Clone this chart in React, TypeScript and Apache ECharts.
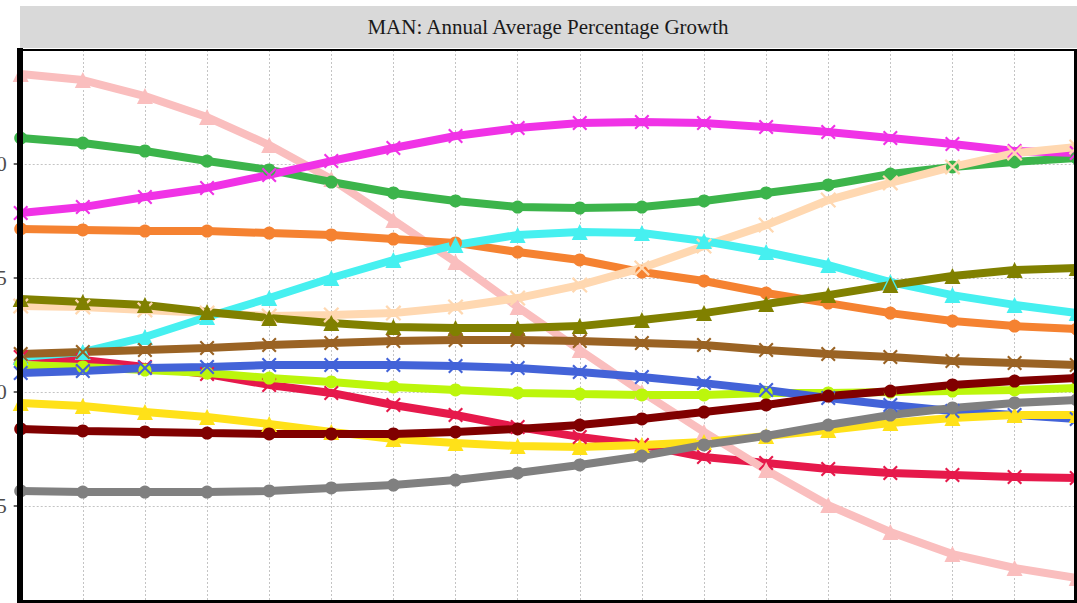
import React, { useEffect, useRef } from "react";
import * as echarts from "echarts";

const years = ["2018","2019","2020","2021","2022","2023","2024","2025","2026","2027","2028","2029","2030","2031","2032","2033","2034","2035"];
const title = "MAN: Annual Average Percentage Growth";

const pinkVals = [2.395,2.368,2.298,2.206,2.083,1.934,1.754,1.570,1.373,1.184,1.0,0.825,0.658,0.504,0.386,0.289,0.228,0.184];
const greenVals = [2.114,2.092,2.057,2.013,1.974,1.921,1.873,1.838,1.811,1.807,1.811,1.838,1.873,1.908,1.956,1.987,2.009,2.026];
const magentaVals = [1.785,1.811,1.855,1.895,1.952,2.013,2.070,2.123,2.158,2.180,2.184,2.180,2.162,2.140,2.114,2.088,2.057,2.048];
const orangeVals = [1.715,1.711,1.706,1.706,1.697,1.689,1.671,1.654,1.614,1.579,1.526,1.487,1.434,1.390,1.346,1.311,1.289,1.276];
const cyanVals = [1.154,1.175,1.241,1.329,1.412,1.500,1.579,1.645,1.689,1.702,1.697,1.662,1.614,1.557,1.482,1.425,1.382,1.346];
const apricotVals = [1.377,1.373,1.360,1.346,1.333,1.338,1.346,1.373,1.412,1.469,1.544,1.640,1.732,1.842,1.917,1.987,2.048,2.075];
const oliveVals = [1.408,1.395,1.382,1.351,1.325,1.303,1.285,1.281,1.281,1.289,1.316,1.346,1.386,1.425,1.469,1.509,1.535,1.544];
const brownVals = [1.167,1.175,1.184,1.193,1.206,1.215,1.224,1.228,1.228,1.224,1.215,1.206,1.184,1.167,1.154,1.136,1.127,1.118];
const blueVals = [1.083,1.092,1.105,1.110,1.118,1.118,1.118,1.114,1.105,1.088,1.066,1.039,1.009,0.974,0.943,0.917,0.899,0.882];
const limeVals = [1.118,1.110,1.096,1.083,1.061,1.044,1.022,1.009,0.996,0.991,0.987,0.987,0.996,0.996,1.0,1.004,1.009,1.018];
const redVals = [1.154,1.140,1.110,1.079,1.031,0.996,0.943,0.899,0.846,0.803,0.768,0.715,0.689,0.662,0.645,0.636,0.627,0.623];
const yellowVals = [0.952,0.939,0.912,0.890,0.860,0.825,0.794,0.776,0.763,0.759,0.768,0.781,0.807,0.833,0.864,0.886,0.899,0.899];
const maroonVals = [0.838,0.829,0.825,0.820,0.816,0.816,0.816,0.825,0.838,0.855,0.882,0.912,0.943,0.982,1.004,1.031,1.048,1.061];
const greyVals = [0.566,0.561,0.561,0.561,0.566,0.579,0.592,0.614,0.645,0.680,0.719,0.768,0.807,0.855,0.899,0.930,0.952,0.965];

const CROSS = "path://M0,1 L1,0 L5,4 L9,0 L10,1 L6,5 L10,9 L9,10 L5,6 L1,10 L0,9 L4,5 Z";

type S = { name: string; color: string; data: number[]; symbol: string; size: number };
const seriesDefs: S[] = [
  { name: "red", color: "#e6194b", data: redVals, symbol: CROSS, size: 15 },
  { name: "pink", color: "#fabebe", data: pinkVals, symbol: "triangle", size: 16 },
  { name: "green", color: "#3cb44b", data: greenVals, symbol: "circle", size: 13 },
  { name: "magenta", color: "#f032e6", data: magentaVals, symbol: CROSS, size: 15 },
  { name: "orange", color: "#f58231", data: orangeVals, symbol: "circle", size: 13 },
  { name: "apricot", color: "#ffd8b1", data: apricotVals, symbol: CROSS, size: 16 },
  { name: "cyan", color: "#46f0f0", data: cyanVals, symbol: "triangle", size: 16 },
  { name: "olive", color: "#808000", data: oliveVals, symbol: "triangle", size: 16 },
  { name: "brown", color: "#9a6324", data: brownVals, symbol: CROSS, size: 15 },
  { name: "lime", color: "#bcf60c", data: limeVals, symbol: "circle", size: 13 },
  { name: "blue", color: "#4363d8", data: blueVals, symbol: CROSS, size: 15 },
  { name: "yellow", color: "#ffe119", data: yellowVals, symbol: "triangle", size: 16 },
  { name: "maroon", color: "#800000", data: maroonVals, symbol: "circle", size: 13 },
  { name: "grey", color: "#808080", data: greyVals, symbol: "circle", size: 13 },
];

export default function App() {
  const ref = useRef<HTMLDivElement>(null);
  useEffect(() => {
    if (!ref.current) return;
    const chart = echarts.init(ref.current, undefined, { renderer: "svg" });
    const font = "'Liberation Serif', 'DejaVu Serif', serif";
    chart.setOption({
      animation: false,
      backgroundColor: "#ffffff",
      grid: { left: 20.7, right: 0.3, top: 50, bottom: 5, containLabel: false, outerBoundsMode: "none" },
      xAxis: {
        type: "category",
        data: years,
        boundaryGap: false,
        axisLine: { show: false },
        axisTick: { show: false },
        axisLabel: { show: false },
        splitLine: { show: true, lineStyle: { color: "#c4c4c4", type: [2, 2], width: 1 } },
      },
      yAxis: {
        type: "value",
        min: 0,
        max: 2.5,
        interval: 0.5,
        axisLine: { show: false },
        axisTick: { show: true, length: 7, lineStyle: { color: "#333", width: 1.5 } },
        axisLabel: {
          show: true,
          margin: 14,
          color: "#4d4d4d",
          fontSize: 21,
          fontFamily: font,
          formatter: (v: number) => (v <= 0.001 || v >= 2.499 ? "" : v.toFixed(1)),
        },
        splitLine: { show: true, lineStyle: { color: "#c4c4c4", type: [2, 2], width: 1 } },
      },
      series: seriesDefs.map((s) => ({
        name: s.name,
        type: "line",
        data: s.data,
        symbol: s.symbol,
        symbolSize: s.size,
        showAllSymbol: true,
        lineStyle: { color: s.color, width: 8 },
        itemStyle: { color: s.color },
        emphasis: { disabled: true },
      })),
      graphic: [
        { type: "rect", shape: { x: 0, y: 40, width: 17, height: 14 }, style: { fill: "#fff" }, z: 99 },
        { type: "rect", shape: { x: 20, y: 6, width: 1057, height: 42 }, style: { fill: "#d9d9d9" }, z: 100 },
        {
          type: "text",
          x: 548,
          y: 27,
          style: { text: title, fill: "#1a1a1a", font: `21px ${font}`, textAlign: "center", textVerticalAlign: "middle" },
          z: 101,
        },
        { type: "rect", shape: { x: 20, y: 49, width: 1057, height: 2 }, style: { fill: "#000" }, z: 100 },
        { type: "rect", shape: { x: 17, y: 48, width: 6, height: 560 }, style: { fill: "#000" }, z: 100 },
        { type: "rect", shape: { x: 1074, y: 49, width: 3, height: 560 }, style: { fill: "#000" }, z: 100 },
        { type: "rect", shape: { x: 17, y: 600, width: 1060, height: 3 }, style: { fill: "#000" }, z: 100 },
      ],
    });
    return () => chart.dispose();
  }, []);
  return (
    <div style={{ position: "fixed", left: 0, top: 0, width: 1077, height: 603, overflow: "hidden", background: "#fff" }}>
      <div ref={ref} style={{ width: 1077, height: 625 }} />
    </div>
  );
}
